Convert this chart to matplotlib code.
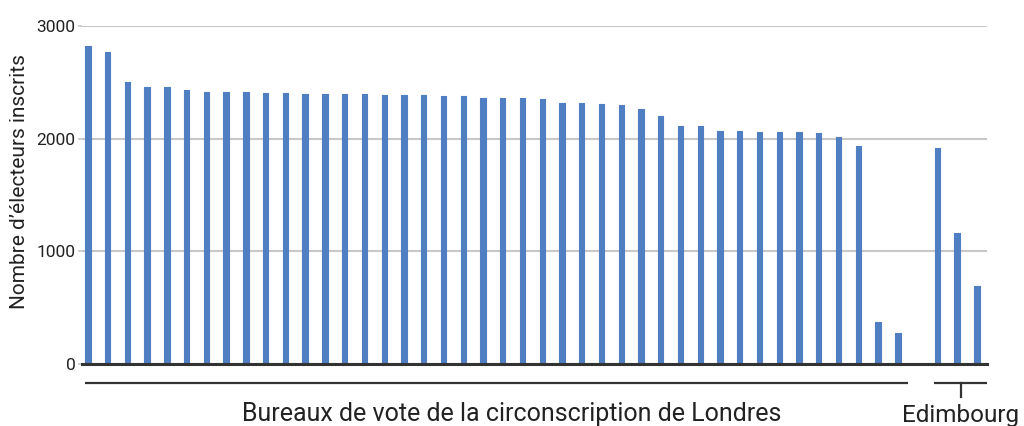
import numpy as np
import matplotlib
matplotlib.use("Agg")
import matplotlib.pyplot as plt
import matplotlib.transforms as mtransforms

plt.rcParams["font.family"] = ["Roboto", "DejaVu Sans"]

# ── Data: registered voters per polling station ──────────────
london = [2820, 2770, 2505, 2455, 2455, 2435, 2410, 2410, 2410, 2405,
          2405, 2395, 2395, 2395, 2395, 2385, 2385, 2385, 2375, 2375,
          2365, 2365, 2365, 2350, 2320, 2320, 2310, 2300, 2260, 2200,
          2110, 2110, 2070, 2070, 2060, 2060, 2060, 2050, 2015, 1935,
          375, 275]
edinburgh = [1915, 1160, 690]

group_labels = ["Bureaux de vote de la circonscription de Londres", "Edimbourg"]
y_ticks = [0, 1000, 2000, 3000]
y_label = "Nombre d\u2019électeurs inscrits"

BAR_COLOR = "#4f7ec2"
GRID_COLOR = "#c8c8c8"
AXIS_COLOR = "#333333"

# one empty slot between the two groups
x_london = np.arange(len(london))
x_edin = np.arange(len(edinburgh)) + len(london) + 1

fig = plt.figure(figsize=(10.24, 4.26), dpi=100)
ax = fig.add_axes([0.080, 0.1455, 0.884, 0.7935])

for xs, ys in ((x_london, london), (x_edin, edinburgh)):
    ax.bar(xs, ys, width=0.27, color=BAR_COLOR, edgecolor=BAR_COLOR,
           linewidth=0.8, joinstyle="round", zorder=3)

ax.set_xlim(-0.3, x_edin[-1] + 0.52)
ax.set_ylim(0, 3000)
ax.set_yticks(y_ticks)
ax.set_yticklabels([str(v) for v in y_ticks])
ax.set_xticks([])
ax.grid(axis="y", color=GRID_COLOR, linewidth=1.5, zorder=0)
ax.tick_params(axis="y", length=3, width=1.2, color=GRID_COLOR, pad=1.5,
               labelsize=12.5, labelcolor="#222222")
ax.get_yticklines()[0].set_color(AXIS_COLOR)

for side in ("top", "right", "left"):
    ax.spines[side].set_visible(False)
ax.spines["bottom"].set_color(AXIS_COLOR)
ax.spines["bottom"].set_linewidth(2.2)
ax.spines["bottom"].set_zorder(4)

ax.set_ylabel(y_label, fontsize=15, color="#222222")
ax.yaxis.set_label_coords(-0.058, 0.54)

# ── Group brackets under the axis ─────────────────────────────
trans = mtransforms.blended_transform_factory(ax.transData, ax.transAxes)
line_y, tick_y, text_y = -0.056, -0.098, -0.172

for xs in (x_london, x_edin):
    x0, x1 = xs[0] - 0.15, xs[-1] + 0.5
    ax.plot([x0, x1], [line_y, line_y], color=AXIS_COLOR, lw=1.6,
            transform=trans, clip_on=False, solid_capstyle="butt")

edin_mid = (x_edin[0] - 0.15 + x_edin[-1] + 0.5) / 2
ax.plot([edin_mid, edin_mid], [line_y, tick_y], color=AXIS_COLOR, lw=1.6,
        transform=trans, clip_on=False)

fig.text(0.5, 0.012, group_labels[0], ha="center", va="baseline",
         fontsize=18, color="#222222")
ax.text(edin_mid, text_y, group_labels[1], ha="center", va="baseline",
        fontsize=17.5, color="#222222", transform=trans, clip_on=False)

fig.savefig("out.png", dpi=100)
